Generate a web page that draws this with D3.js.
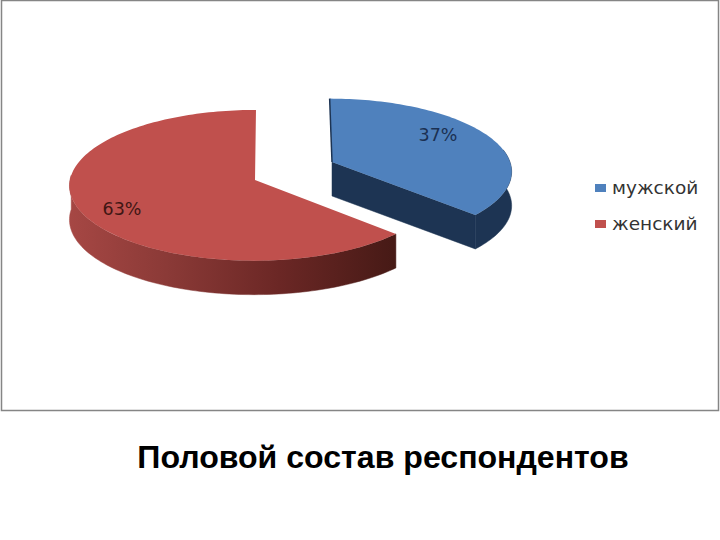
<!DOCTYPE html>
<html>
<head>
<meta charset="utf-8">
<script src="https://cdn.jsdelivr.net/npm/d3@7"></script>
<style>
  html, body { margin: 0; padding: 0; background: #fff; }
  svg { display: block; }
</style>
</head>
<body>
<svg id="chart" viewBox="0 0 720 540" width="720" height="540"></svg>
<script>
const categories = ["мужской", "женский"];
const shares = [37, 63];
const chartTitle = "Половой состав респондентов";

const topColors = ["#4f81bd", "#c0504d"];
const svg = d3.select("#chart");
const defs = svg.append("defs");

const color = d3.scaleOrdinal().domain(categories).range(topColors);

// the red wall gets darker to the right, the blue one is flat
const wallGradient = defs.append("linearGradient")
  .attr("id", "redWall")
  .attr("gradientUnits", "userSpaceOnUse")
  .attr("x1", 69).attr("x2", 393).attr("y1", 0).attr("y2", 0);
wallGradient.append("stop").attr("offset", 0).attr("stop-color", "#a64744");
wallGradient.append("stop").attr("offset", 0.3).attr("stop-color", "#8b3a37");
wallGradient.append("stop").attr("offset", 0.65).attr("stop-color", "#6b2725");
wallGradient.append("stop").attr("offset", 1).attr("stop-color", "#471a16");

const pie = d3.pie().sort(null).value((d, i) => shares[i]);
const slices = pie(categories);

// perspective of the 3d disc, seen from above
const depth = 34;
const layout = [
  { cx: 332, cy: 162, rx: 178, ry: 71, eyeX: 310, perspective: 0.12, wall: "#1d3453", label: [438, 136], labelColor: "#1b3052" },
  { cx: 255, cy: 180, rx: 185, ry: 75, eyeX: 270, perspective: 0.07, wall: "url(#redWall)", label: [122, 210], labelColor: "#3f1614" },
];

function project(slot, angle, radius) {
  const u = Math.sin(angle) * radius;
  const v = -Math.cos(angle) * radius;
  const s = 1 / (1 - slot.perspective * v);
  return [
    slot.eyeX + (slot.cx - slot.eyeX + slot.rx * u) * s,
    slot.cy + slot.ry * v * s,
  ];
}

function rim(slot, a0, a1) {
  const n = Math.max(2, Math.ceil(Math.abs(a1 - a0) * 40));
  return d3.range(n + 1).map((i) => project(slot, a0 + ((a1 - a0) * i) / n, 1));
}

const line = d3.line();
const down = (pts) => pts.map((p) => [p[0], p[1] + depth]).reverse();

const sliceGroups = svg.append("g")
  .selectAll("g")
  .data(slices)
  .enter()
  .append("g");

sliceGroups.each(function (d, i) {
  const slot = layout[i];
  const g = d3.select(this);
  const apex = project(slot, 0, 0);

  // walls first
  const walls = [];
  if (i === 0) {
    // cut face from centre to the front tip, outer wall on the right
    const tip = project(slot, d.endAngle, 1);
    walls.push([apex, tip].concat(down([apex, tip])));
    const front = rim(slot, d.endAngle * 0.6, d.endAngle);
    walls.push(front.concat(down(front)));
  } else {
    const front = rim(slot, d.startAngle, Math.PI * 1.52);
    walls.push(front.concat(down(front)));
  }
  walls.forEach((w) => {
    g.append("path").attr("d", line(w) + "Z").attr("fill", slot.wall).attr("stroke", slot.wall).attr("stroke-width", 0.5);
  });

  g.append("path")
    .attr("d", line([apex].concat(rim(slot, d.startAngle, d.endAngle))) + "Z")
    .attr("fill", color(d.data));

  // thin dark sliver on the left edge of the blue slice
  if (i === 0) {
    g.append("path")
      .attr("d", line([project(slot, 0, 1), apex]))
      .attr("stroke", slot.wall)
      .attr("stroke-width", 1.5)
      .attr("fill", "none");
  }

  g.append("text")
    .attr("x", slot.label[0])
    .attr("y", slot.label[1])
    .attr("text-anchor", "middle")
    .attr("dominant-baseline", "middle")
    .attr("font-family", "'DejaVu Sans', sans-serif")
    .attr("font-size", 17.5)
    .attr("fill", slot.labelColor)
    .text(d.value + "%");
});

// slide frame
svg.append("rect")
  .attr("x", 1.5).attr("y", 0.5)
  .attr("width", 717).attr("height", 410)
  .attr("fill", "none")
  .attr("stroke", "#858585")
  .attr("stroke-width", 1.5);

const legendY = d3.scalePoint().domain(categories).range([188, 224]);
const legend = svg.append("g")
  .selectAll("g")
  .data(categories)
  .enter()
  .append("g")
  .attr("transform", (d) => `translate(595,${legendY(d)})`);
legend.append("rect")
  .attr("x", 0).attr("y", -4)
  .attr("width", 11).attr("height", 8)
  .attr("fill", (d) => color(d));
legend.append("text")
  .attr("x", 17)
  .attr("y", 1)
  .attr("dominant-baseline", "middle")
  .attr("font-family", "'DejaVu Sans', sans-serif")
  .attr("font-size", 18.5)
  .attr("fill", "#333")
  .text((d) => d);

svg.append("text")
  .attr("x", 383)
  .attr("y", 468)
  .attr("text-anchor", "middle")
  .attr("font-family", "'Liberation Sans', Arial, sans-serif")
  .attr("font-weight", "bold")
  .attr("font-size", 32.1)
  .attr("fill", "#000")
  .text(chartTitle);
</script>
</body>
</html>
